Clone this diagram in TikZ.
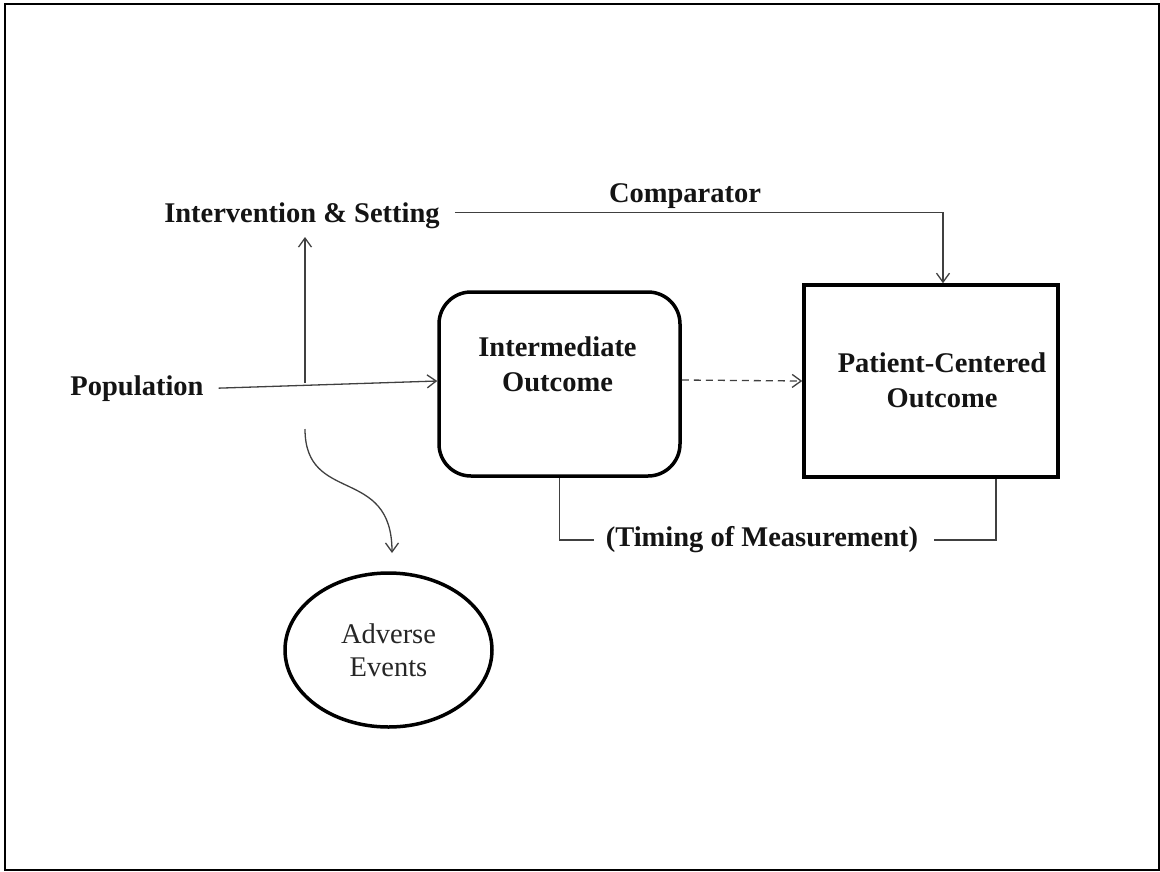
\documentclass[tikz,border=0pt]{standalone}
\usepackage{fontspec}
\setmainfont{Liberation Serif}
\usetikzlibrary{arrows.meta,shapes.geometric}
\begin{document}
\begin{tikzpicture}[x=1pt,y=-1pt,
  lbl/.style={font=\fontsize{28.5}{35}\selectfont\bfseries, inner sep=0pt, text=black!92},
  conn/.style={draw=black!75, line width=1.3pt},
  arr/.style={conn, -{Straight Barb[length=9pt,width=13pt]}},
  boxline/.style={draw=black, line width=3.5pt},
]
\useasboundingbox (0,0) rectangle (1160,871);
\draw[line width=2.8pt] (5,4) rectangle (1159,870);

% labels
\node[lbl, anchor=base] (pop) at (137,395) {Population};
\node[lbl, anchor=base] (int) at (302,222) {Intervention \& Setting};
\node[lbl, anchor=base] (comp) at (685,202) {Comparator};

% boxes
\node[boxline, rounded corners=32pt, minimum width=241pt, minimum height=184pt] (io) at (559.5,384) {};
\node[lbl, align=center] (iot) at (557.5,364) {Intermediate\\Outcome};
\node[boxline, minimum width=254pt, minimum height=192pt] (pco) at (931,381) {};
\node[lbl, align=center] (pcot) at (942,380) {Patient-Centered\\Outcome};
\node[ellipse, boxline, minimum width=207pt, minimum height=154pt, inner sep=0pt,
      font=\fontsize{28.5}{33}\selectfont, text=black!85, align=center] (ae) at (388.5,650) {Adverse\\Events};
\node[lbl] (tm) at (762,540) {(Timing of Measurement)};

% free ends
\coordinate (vs) at (305,383);
\coordinate (vt) at (305,237);
\coordinate (cs) at (305,429);
\coordinate (ct) at (392,553);

% connectors
\draw[arr] ([xshift=15pt]pop.east) -- ([yshift=3pt]io.west);
\draw[arr] (vs) -- (vt);
\draw[arr] (cs) .. controls (305,505) and (392,465) .. (ct);
\draw[arr, dash pattern=on 7pt off 5pt] ([yshift=4pt]io.east) -- (pco.west);
\draw[arr] ([xshift=15pt,yshift=3pt]int.east) -| ([xshift=12pt]pco.north);
\draw[conn] (io.south) |- ([xshift=-12pt]tm.west);
\draw[conn] ([xshift=16pt]tm.east) -| ([xshift=65pt]pco.south);
\end{tikzpicture}
\end{document}
